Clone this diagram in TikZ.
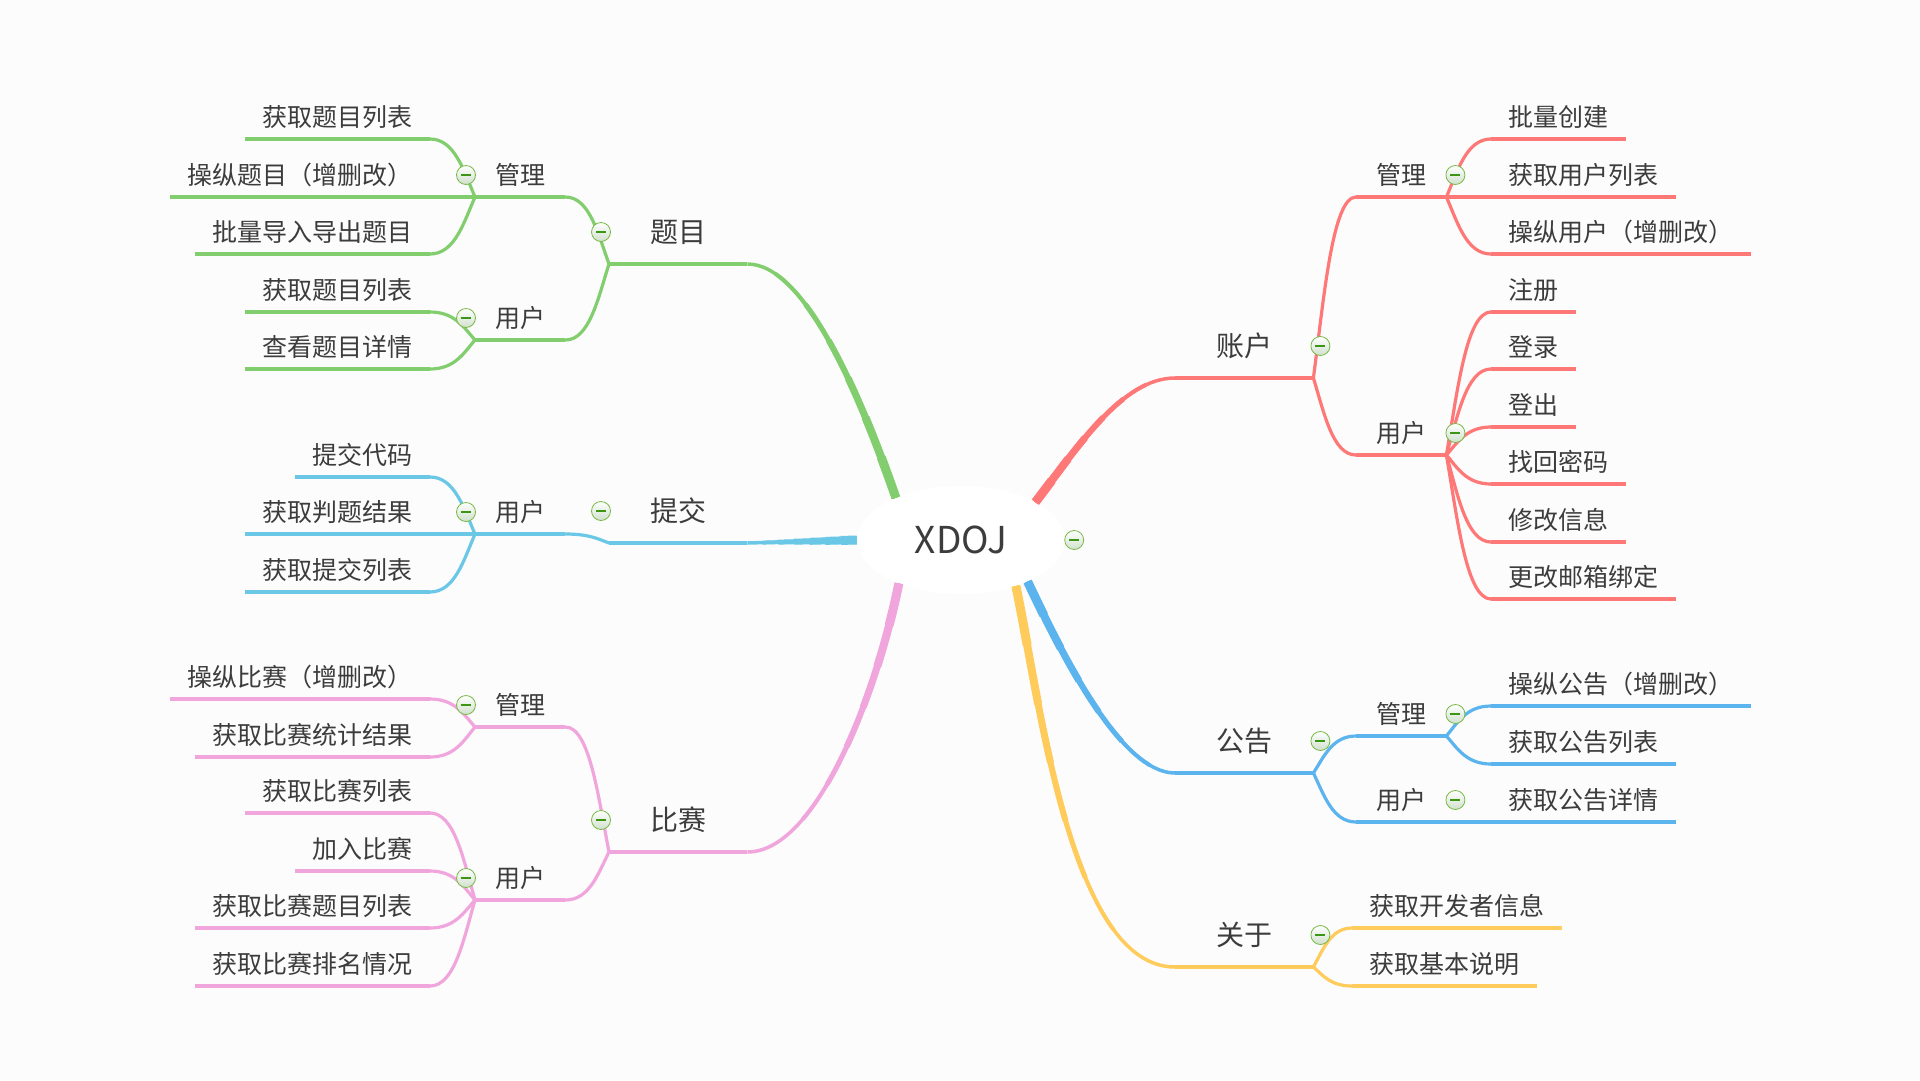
\documentclass[tikz,border=0pt]{standalone}
\usepackage{fontspec}
\setmainfont{Noto Sans CJK SC}
\usetikzlibrary{shapes.geometric,calc}

\definecolor{ink}{RGB}{60,60,60}
\definecolor{paper}{RGB}{252,252,252}
\definecolor{tmc}{RGB}{130,206,110}
\definecolor{tjc}{RGB}{106,200,230}
\definecolor{bsc}{RGB}{240,166,220}
\definecolor{zhc}{RGB}{255,120,120}
\definecolor{ggc}{RGB}{92,180,238}
\definecolor{gyc}{RGB}{255,204,92}
\definecolor{foldline}{RGB}{120,185,70}
\definecolor{foldfill}{RGB}{208,224,204}
\definecolor{foldbar}{RGB}{60,150,20}

\newcommand{\limb}[3]{%
  \draw[#1, line width=3.5pt] #3;
  \foreach \k in {0,...,5}{%
    \pgfmathsetmacro{\lw}{9-\k}%
    \pgfmathsetmacro{\dl}{#2*(\k+1)/7}%
    \draw[#1, line width=\lw pt, dash pattern=on \dl pt off 3000pt] #3;
  }%
}

\begin{document}
\begin{tikzpicture}[x=1pt, y=-1pt,
    root/.style={ellipse, fill=white, minimum width=208pt, minimum height=108pt, inner sep=0pt, text=ink, font=\fontsize{37}{40}\selectfont},
    under/.style={append after command={(\tikzlastnode.south west) edge[draw=#1, line width=3.2pt] (\tikzlastnode.south east)}},
    leaf/.style={inner xsep=17.5pt, inner ysep=12.5pt, text depth=0pt, text=ink, font=\fontsize{25}{30}\selectfont, under=#1},
    sub/.style={leaf=#1, inner xsep=20pt},
    topic/.style={leaf=#1, minimum width=138pt, inner ysep=21.4pt, font=\fontsize{28}{34}\selectfont},
    twig/.style={draw=#1, line width=3.2pt, line cap=round, to path={let \p1=(\tikztostart), \p2=(\tikztotarget) in .. controls ({\x1+0.25*(\x2-\x1)},{\y1+0.45*(\y2-\y1)}) and ({\x1+0.45*(\x2-\x1)},\y2) .. (\tikztotarget)}},
    fold/.style={circle, draw=foldline, line width=0.8pt, minimum size=19pt, inner sep=0pt, top color=white, bottom color=foldfill,
      path picture={\draw[foldbar, line width=1.2pt] ([xshift=-5pt]path picture bounding box.center) -- ([xshift=5pt]path picture bounding box.center);}}
  ]
  \fill[paper] (0,0) rectangle (1920,1080);
  \node[root] (xdoj) at (961,540) {XDOJ};

  \node[topic=tmc, anchor=south west] (tm) at (609,264) {题目};
  \node[sub=tmc, anchor=south west] (tm-gl) at (475,197) {管理};
  \node[leaf=tmc, anchor=south east] (tm-gl-1) at (430,139) {获取题目列表};
  \node[leaf=tmc, anchor=south east] (tm-gl-2) at (430,197) {操纵题目（增删改）};
  \node[leaf=tmc, anchor=south east] (tm-gl-3) at (430,254) {批量导入导出题目};
  \node[sub=tmc, anchor=south west] (tm-yh) at (475,340) {用户};
  \node[leaf=tmc, anchor=south east] (tm-yh-1) at (430,312) {获取题目列表};
  \node[leaf=tmc, anchor=south east] (tm-yh-2) at (430,369) {查看题目详情};

  \node[topic=tjc, anchor=south west] (tj) at (609,543) {提交};
  \node[sub=tjc, anchor=south west] (tj-yh) at (475,534) {用户};
  \node[leaf=tjc, anchor=south east] (tj-yh-1) at (430,477) {提交代码};
  \node[leaf=tjc, anchor=south east] (tj-yh-2) at (430,534) {获取判题结果};
  \node[leaf=tjc, anchor=south east] (tj-yh-3) at (430,592) {获取提交列表};

  \node[topic=bsc, anchor=south west] (bs) at (609,852) {比赛};
  \node[sub=bsc, anchor=south west] (bs-gl) at (475,727) {管理};
  \node[leaf=bsc, anchor=south east] (bs-gl-1) at (430,699) {操纵比赛（增删改）};
  \node[leaf=bsc, anchor=south east] (bs-gl-2) at (430,757) {获取比赛统计结果};
  \node[sub=bsc, anchor=south west] (bs-yh) at (475,900) {用户};
  \node[leaf=bsc, anchor=south east] (bs-yh-1) at (430,813) {获取比赛列表};
  \node[leaf=bsc, anchor=south east] (bs-yh-2) at (430,871) {加入比赛};
  \node[leaf=bsc, anchor=south east] (bs-yh-3) at (430,928) {获取比赛题目列表};
  \node[leaf=bsc, anchor=south east] (bs-yh-4) at (430,986) {获取比赛排名情况};

  \node[topic=zhc, anchor=south west] (zh) at (1175,378) {账户};
  \node[sub=zhc, anchor=south west] (zh-gl) at (1356,197) {管理};
  \node[leaf=zhc, anchor=south west] (zh-gl-1) at (1491,139) {批量创建};
  \node[leaf=zhc, anchor=south west] (zh-gl-2) at (1491,197) {获取用户列表};
  \node[leaf=zhc, anchor=south west] (zh-gl-3) at (1491,254) {操纵用户（增删改）};
  \node[sub=zhc, anchor=south west] (zh-yh) at (1356,455) {用户};
  \node[leaf=zhc, anchor=south west] (zh-yh-1) at (1491,312) {注册};
  \node[leaf=zhc, anchor=south west] (zh-yh-2) at (1491,369) {登录};
  \node[leaf=zhc, anchor=south west] (zh-yh-3) at (1491,427) {登出};
  \node[leaf=zhc, anchor=south west] (zh-yh-4) at (1491,484) {找回密码};
  \node[leaf=zhc, anchor=south west] (zh-yh-5) at (1491,542) {修改信息};
  \node[leaf=zhc, anchor=south west] (zh-yh-6) at (1491,599) {更改邮箱绑定};

  \node[topic=ggc, anchor=south west] (gg) at (1175,773) {公告};
  \node[sub=ggc, anchor=south west] (gg-gl) at (1356,736) {管理};
  \node[leaf=ggc, anchor=south west] (gg-gl-1) at (1491,706) {操纵公告（增删改）};
  \node[leaf=ggc, anchor=south west] (gg-gl-2) at (1491,764) {获取公告列表};
  \node[sub=ggc, anchor=south west] (gg-yh) at (1356,822) {用户};
  \node[leaf=ggc, anchor=south west] (gg-yh-1) at (1491,822) {获取公告详情};

  \node[topic=gyc, anchor=south west] (gy) at (1175,967) {关于};
  \node[leaf=gyc, anchor=south west] (gy-1) at (1352,928) {获取开发者信息};
  \node[leaf=gyc, anchor=south west] (gy-2) at (1352,986) {获取基本说明};

  \limb{tmc}{300}{(xdoj.147) .. controls (860,395) and (805,264) .. (tm.south east)}
  \limb{tjc}{110}{(xdoj.west) -- (tj.south east)}
  \limb{bsc}{300}{(xdoj.215) .. controls (875,700) and (815,852) .. (bs.south east)}
  \limb{zhc}{190}{(xdoj.27) .. controls (1077,448) and (1122,378) .. (zh.south west)}
  \limb{ggc}{260}{(xdoj.-32) .. controls (1060,650) and (1120,773) .. (gg.south west)}
  \limb{gyc}{420}{(xdoj.-40) .. controls (1040,700) and (1070,967) .. (gy.south west)}

  \foreach \a/\b in {tm/tm-gl, tm/tm-yh, tm-gl/tm-gl-1, tm-gl/tm-gl-2, tm-gl/tm-gl-3, tm-yh/tm-yh-1, tm-yh/tm-yh-2}
    \draw[twig=tmc] (\a.south west) to (\b.south east);
  \foreach \a/\b in {tj/tj-yh, tj-yh/tj-yh-1, tj-yh/tj-yh-2, tj-yh/tj-yh-3}
    \draw[twig=tjc] (\a.south west) to (\b.south east);
  \foreach \a/\b in {bs/bs-gl, bs/bs-yh, bs-gl/bs-gl-1, bs-gl/bs-gl-2, bs-yh/bs-yh-1, bs-yh/bs-yh-2, bs-yh/bs-yh-3, bs-yh/bs-yh-4}
    \draw[twig=bsc] (\a.south west) to (\b.south east);
  \foreach \a/\b in {zh/zh-gl, zh/zh-yh, zh-gl/zh-gl-1, zh-gl/zh-gl-2, zh-gl/zh-gl-3, zh-yh/zh-yh-1, zh-yh/zh-yh-2, zh-yh/zh-yh-3, zh-yh/zh-yh-4, zh-yh/zh-yh-5, zh-yh/zh-yh-6}
    \draw[twig=zhc] (\a.south east) to (\b.south west);
  \foreach \a/\b in {gg/gg-gl, gg/gg-yh, gg-gl/gg-gl-1, gg-gl/gg-gl-2, gg-yh/gg-yh-1}
    \draw[twig=ggc] (\a.south east) to (\b.south west);
  \foreach \a/\b in {gy/gy-1, gy/gy-2}
    \draw[twig=gyc] (\a.south east) to (\b.south west);

  \node[fold] (xdoj-f) at ([xshift=9pt]xdoj.east) {};
  \foreach \n in {tm, tj, bs}
    \node[fold] (\n-f) at ([shift={(-8,-32)}]\n.south west) {};
  \foreach \n in {tm-gl, tm-yh, tj-yh, bs-gl, bs-yh}
    \node[fold] (\n-f) at ([shift={(-9,-22)}]\n.south west) {};
  \foreach \n in {zh, gg, gy}
    \node[fold] (\n-f) at ([shift={(7,-32)}]\n.south east) {};
  \foreach \n in {zh-gl, zh-yh, gg-gl, gg-yh}
    \node[fold] (\n-f) at ([shift={(9,-22)}]\n.south east) {};
\end{tikzpicture}
\end{document}
